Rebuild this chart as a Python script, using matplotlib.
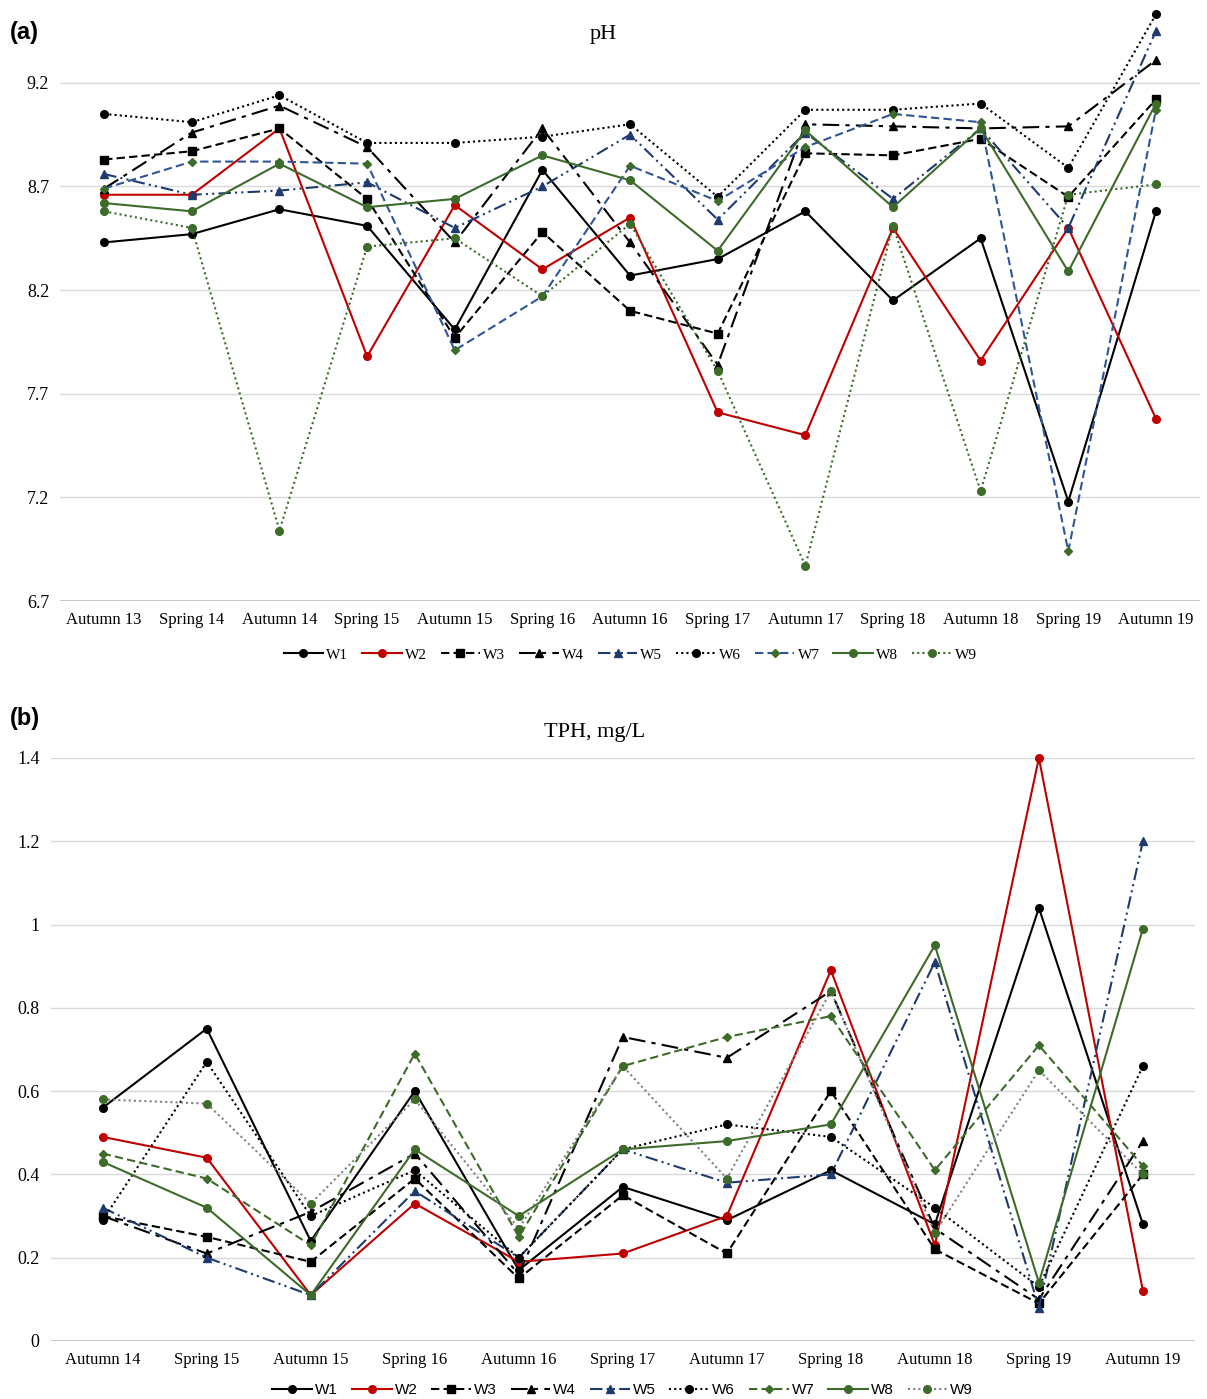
import matplotlib
matplotlib.use("Agg")
import matplotlib.pyplot as plt

ph_cats = ["Autumn 13","Spring 14","Autumn 14","Spring 15","Autumn 15","Spring 16","Autumn 16",
           "Spring 17","Autumn 17","Spring 18","Autumn 18","Spring 19","Autumn 19"]
ph_W1 = [8.43,8.47,8.59,8.51,8.01,8.78,8.27,8.35,8.58,8.15,8.45,7.18,8.58]
ph_W2 = [8.66,8.66,8.98,7.88,8.61,8.30,8.55,7.61,7.50,8.50,7.86,8.50,7.58]
ph_W3 = [8.83,8.87,8.98,8.64,7.97,8.48,8.10,7.99,8.86,8.85,8.93,8.65,9.12]
ph_W4 = [8.69,8.96,9.09,8.89,8.43,8.98,8.43,7.84,9.00,8.99,8.98,8.99,9.31]
ph_W5 = [8.76,8.66,8.68,8.72,8.50,8.70,8.95,8.54,8.96,8.64,8.98,8.50,9.45]
ph_W6 = [9.05,9.01,9.14,8.91,8.91,8.94,9.00,8.65,9.07,9.07,9.10,8.79,9.53]
ph_W7 = [8.69,8.82,8.82,8.81,7.91,8.17,8.80,8.63,8.89,9.05,9.01,6.94,9.07]
ph_W8 = [8.62,8.58,8.81,8.60,8.64,8.85,8.73,8.39,8.97,8.60,8.98,8.29,9.10]
ph_W9 = [8.58,8.50,7.04,8.41,8.45,8.17,8.52,7.81,6.87,8.51,7.23,8.66,8.71]

tph_cats = ["Autumn 14","Spring 15","Autumn 15","Spring 16","Autumn 16","Spring 17",
            "Autumn 17","Spring 18","Autumn 18","Spring 19","Autumn 19"]
tph_W1 = [0.56,0.75,0.24,0.60,0.17,0.37,0.29,0.41,0.28,1.04,0.28]
tph_W2 = [0.49,0.44,0.11,0.33,0.19,0.21,0.30,0.89,0.23,1.40,0.12]
tph_W3 = [0.30,0.25,0.19,0.39,0.15,0.35,0.21,0.60,0.22,0.09,0.40]
tph_W4 = [0.30,0.21,0.31,0.45,0.16,0.73,0.68,0.84,0.27,0.10,0.48]
tph_W5 = [0.32,0.20,0.11,0.36,0.20,0.46,0.38,0.40,0.91,0.08,1.20]
tph_W6 = [0.29,0.67,0.30,0.41,0.20,0.46,0.52,0.49,0.32,0.13,0.66]
tph_W7 = [0.45,0.39,0.23,0.69,0.25,0.66,0.73,0.78,0.41,0.71,0.42]
tph_W8 = [0.43,0.32,0.11,0.46,0.30,0.46,0.48,0.52,0.95,0.14,0.99]
tph_W9 = [0.58,0.57,0.33,0.58,0.27,0.66,0.39,0.84,0.26,0.65,0.40]

names = ["W1","W2","W3","W4","W5","W6","W7","W8","W9"]
GREEN = "#3d6b2a"
NAVY = "#1f3a6e"
BLUE7 = "#2f5597"
styles_ph = [
    dict(color="black", ls="-", marker="o"),
    dict(color="#c00000", ls="-", marker="o"),
    dict(color="black", ls=(0,(4,2)), marker="s"),
    dict(color="black", ls=(0,(8,3,2,3)), marker="^"),
    dict(color=NAVY, ls=(0,(6,2,1,2,1,2)), marker="^"),
    dict(color="black", ls=(0,(1,1.5)), marker="o"),
    dict(color=BLUE7, ls=(0,(4,2)), marker="D", mfc=GREEN, mec=GREEN, ms=4),
    dict(color=GREEN, ls="-", marker="o"),
    dict(color=GREEN, ls=(0,(1,1.5)), marker="o"),
]
styles_tph = [dict(s) for s in styles_ph]
styles_tph[6] = dict(color=GREEN, ls=(0,(4,2)), marker="D", ms=4)
styles_tph[8] = dict(color="#808080", ls=(0,(1,1.5)), marker="o", mfc=GREEN, mec=GREEN)

serif = "Liberation Serif"
sans = "Liberation Sans"

fig = plt.figure(figsize=(12.07, 13.99), dpi=100)

def draw(ax, cats, series, styles, yticks, ylim, legfont, legy):
    x = list(range(len(cats)))
    for d, st, nm in zip(series, styles, names):
        st = dict(st)
        ms = st.pop("ms", 5.5)
        ax.plot(x, d, label=nm, lw=1.5, ms=ms, clip_on=False, **st)
    ax.set_xlim(-0.5, len(cats) - 0.5)
    ax.set_ylim(*ylim)
    ax.set_yticks(yticks)
    ax.set_yticklabels([("%g" % v) for v in yticks], fontfamily=serif, fontsize=13)
    ax.set_xticks(x)
    ax.set_xticklabels(cats, fontfamily=serif, fontsize=12)
    for v in yticks:
        ax.axhline(v, color="#d9d9d9", lw=1, zorder=0)
    ax.axhline(yticks[0], color="#bfbfbf", lw=1.2, zorder=0)
    for s in ax.spines.values():
        s.set_visible(False)
    ax.tick_params(length=0, pad=8)
    ax.legend(loc="center", bbox_to_anchor=(0.5, legy), ncol=9, frameon=False,
              prop=dict(family=legfont, size=11), handlelength=2.6, columnspacing=0.9,
              handletextpad=0.2)

ax1 = fig.add_axes([0.05, 0.5704, 0.944, 0.4267])
draw(ax1, ph_cats, [ph_W1,ph_W2,ph_W3,ph_W4,ph_W5,ph_W6,ph_W7,ph_W8,ph_W9], styles_ph,
     [6.7,7.2,7.7,8.2,8.7,9.2], (6.7, 9.58), serif, -0.09)
ax2 = fig.add_axes([0.042, 0.0415, 0.948, 0.4167])
draw(ax2, tph_cats, [tph_W1,tph_W2,tph_W3,tph_W4,tph_W5,tph_W6,tph_W7,tph_W8,tph_W9], styles_tph,
     [0,0.2,0.4,0.6,0.8,1.0,1.2,1.4], (0, 1.4), sans, -0.085)

fig.text(0.5, 1 - 35/1399, "pH", ha="center", va="center", fontfamily=serif, fontsize=16)
fig.text(0.493, 1 - 732/1399, "TPH, mg/L", ha="center", va="center", fontfamily=serif, fontsize=16)
fig.text(0.008, 1 - 33/1399, "(a)", ha="left", va="center", fontfamily=sans, fontweight="bold", fontsize=17)
fig.text(0.008, 1 - 718/1399, "(b)", ha="left", va="center", fontfamily=sans, fontweight="bold", fontsize=17)

fig.savefig("out.png", dpi=100)
